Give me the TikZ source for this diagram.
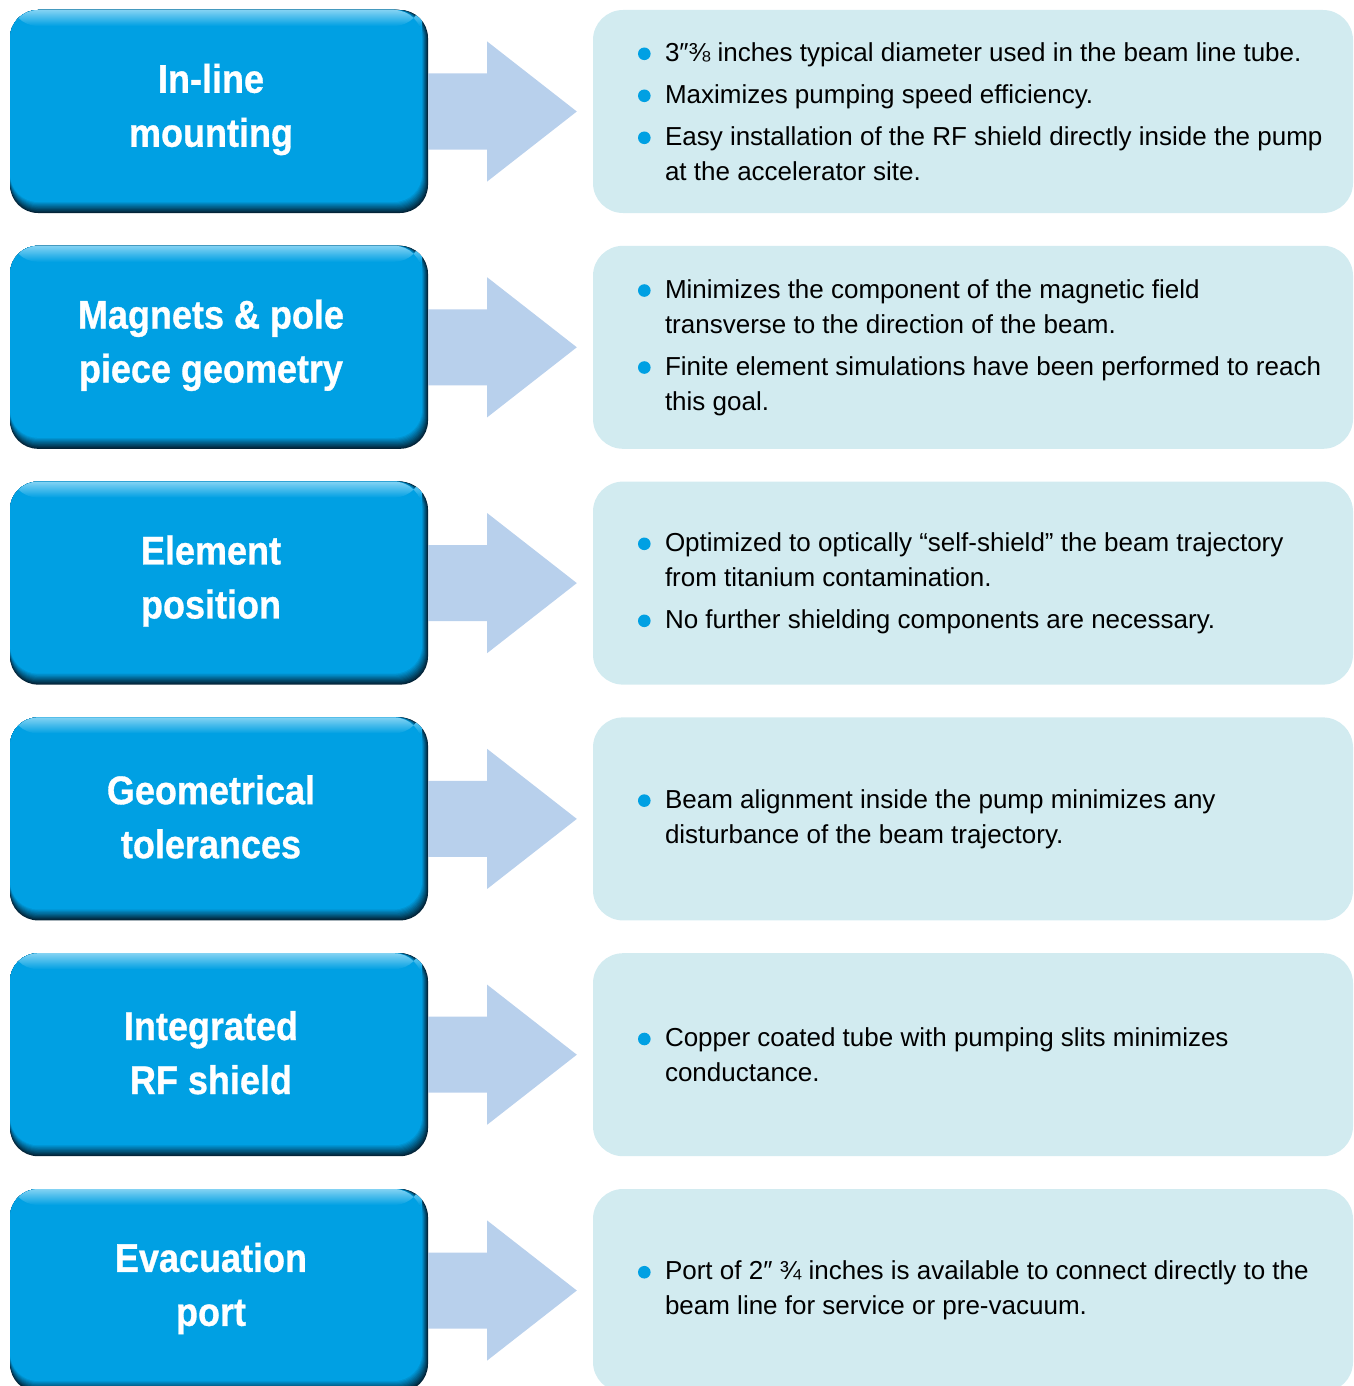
\documentclass[tikz,border=0pt]{standalone}
\usepackage{fontspec}
\setmainfont{Liberation Sans}
\newfontfamily\headfont{Liberation Sans}[FakeStretch=0.9,BoldFeatures={FakeBold=0.8}]
\usepackage{tikz}
\usetikzlibrary{calc}
\usepackage{xcolor}
\definecolor{boxblue}{RGB}{0,160,227}
\definecolor{boxdark}{RGB}{3,36,56}
\definecolor{boxlight}{RGB}{130,210,243}
\definecolor{arrowblue}{RGB}{184,208,236}
\definecolor{panelcyan}{RGB}{210,235,240}
\newcommand{\bul}{\makebox[27pt][l]{\tikz[baseline=0pt]\fill[boxblue] (6.5pt,7.5pt) circle[radius=6.3pt];}}
\newcommand{\hang}{\hspace*{27pt}}

\begin{document}
\begin{tikzpicture}[x=1pt,y=-1pt]
  \tikzset{featurebox/.style={rectangle,rounded corners=28pt,fill=boxdark,inner sep=0pt,minimum width=418pt,minimum height=203pt,
    path picture={
      \foreach \k in {1,...,10}
        \fill[boxblue!\the\numexpr\k*10\relax!boxdark,rounded corners=28pt] (path picture bounding box.north west) rectangle ($(path picture bounding box.south east)+(-0.6*\k,-1.1*\k)$);
      \shade[top color=boxlight,bottom color=boxblue] (path picture bounding box.north west) rectangle ($(path picture bounding box.north east)+(-6,16)$);
    }}}
  \tikzset{featuretitle/.style={align=center,text=white,inner sep=0pt,font=\headfont\bfseries\fontsize{40}{54}\selectfont}}
  \tikzset{infopanel/.style={rectangle,rounded corners=30pt,fill=panelcyan,inner sep=0pt,minimum width=760pt,minimum height=203pt}}
  \tikzset{infotext/.style={anchor=west,align=left,inner sep=0pt,text=black,font=\fontsize{26}{35}\selectfont}}
  \tikzset{blockarrow/.style={fill=arrowblue}}
  \clip (0,0) rectangle (1353,1386);
  % row 1
  \node[featurebox] (box1) at (219,111.5) {};
  \node[infopanel] (info1) at (973,111.5) {};
  \fill[blockarrow] ($(box1.east)+(0,-38)$) -- ++(59,0) -- ++(0,-32) -- ($(info1.west)+(-16,0)$) -- ($(box1.east)+(59,70)$) -- ++(0,-32) -- ($(box1.east)+(0,38)$) -- cycle;
  \node[featuretitle] (title1) at ($(box1.center)+(-8,-2)$) {In-line\\mounting};
  \node[infotext] (text1) at ($(info1.west)+(45,0)$) {\bul 3″⅜ inches typical diameter used in the beam line tube.\\[7pt]\bul Maximizes pumping speed efficiency.\\[7pt]\bul Easy installation of the RF shield directly inside the pump\\\hang at the accelerator site.};
  % row 2
  \node[featurebox] (box2) at (219,347.3) {};
  \node[infopanel] (info2) at (973,347.3) {};
  \fill[blockarrow] ($(box2.east)+(0,-38)$) -- ++(59,0) -- ++(0,-32) -- ($(info2.west)+(-16,0)$) -- ($(box2.east)+(59,70)$) -- ++(0,-32) -- ($(box2.east)+(0,38)$) -- cycle;
  \node[featuretitle] (title2) at ($(box2.center)+(-8,-2)$) {Magnets \& pole\\piece geometry};
  \node[infotext] (text2) at ($(info2.west)+(45,0)$) {\bul Minimizes the component of the magnetic field\\\hang transverse to the direction of the beam.\\[7pt]\bul Finite element simulations have been performed to reach\\\hang this goal.};
  % row 3
  \node[featurebox] (box3) at (219,583.1) {};
  \node[infopanel] (info3) at (973,583.1) {};
  \fill[blockarrow] ($(box3.east)+(0,-38)$) -- ++(59,0) -- ++(0,-32) -- ($(info3.west)+(-16,0)$) -- ($(box3.east)+(59,70)$) -- ++(0,-32) -- ($(box3.east)+(0,38)$) -- cycle;
  \node[featuretitle] (title3) at ($(box3.center)+(-8,-2)$) {Element\\position};
  \node[infotext] (text3) at ($(info3.west)+(45,0)$) {\bul Optimized to optically “self-shield” the beam trajectory\\\hang from titanium contamination.\\[7pt]\bul No further shielding components are necessary.};
  % row 4
  \node[featurebox] (box4) at (219,818.9) {};
  \node[infopanel] (info4) at (973,818.9) {};
  \fill[blockarrow] ($(box4.east)+(0,-38)$) -- ++(59,0) -- ++(0,-32) -- ($(info4.west)+(-16,0)$) -- ($(box4.east)+(59,70)$) -- ++(0,-32) -- ($(box4.east)+(0,38)$) -- cycle;
  \node[featuretitle] (title4) at ($(box4.center)+(-8,-2)$) {Geometrical\\tolerances};
  \node[infotext] (text4) at ($(info4.west)+(45,0)$) {\bul Beam alignment inside the pump minimizes any\\\hang disturbance of the beam trajectory.};
  % row 5
  \node[featurebox] (box5) at (219,1054.7) {};
  \node[infopanel] (info5) at (973,1054.7) {};
  \fill[blockarrow] ($(box5.east)+(0,-38)$) -- ++(59,0) -- ++(0,-32) -- ($(info5.west)+(-16,0)$) -- ($(box5.east)+(59,70)$) -- ++(0,-32) -- ($(box5.east)+(0,38)$) -- cycle;
  \node[featuretitle] (title5) at ($(box5.center)+(-8,-2)$) {Integrated\\RF shield};
  \node[infotext] (text5) at ($(info5.west)+(45,0)$) {\bul Copper coated tube with pumping slits minimizes\\\hang conductance.};
  % row 6
  \node[featurebox] (box6) at (219,1290.5) {};
  \node[infopanel] (info6) at (973,1290.5) {};
  \fill[blockarrow] ($(box6.east)+(0,-38)$) -- ++(59,0) -- ++(0,-32) -- ($(info6.west)+(-16,0)$) -- ($(box6.east)+(59,70)$) -- ++(0,-32) -- ($(box6.east)+(0,38)$) -- cycle;
  \node[featuretitle] (title6) at ($(box6.center)+(-8,-2)$) {Evacuation\\port};
  \node[infotext] (text6) at ($(info6.west)+(45,0)$) {\bul Port of 2″ ¾ inches is available to connect directly to the\\\hang beam line for service or pre-vacuum.};
\end{tikzpicture}
\end{document}
